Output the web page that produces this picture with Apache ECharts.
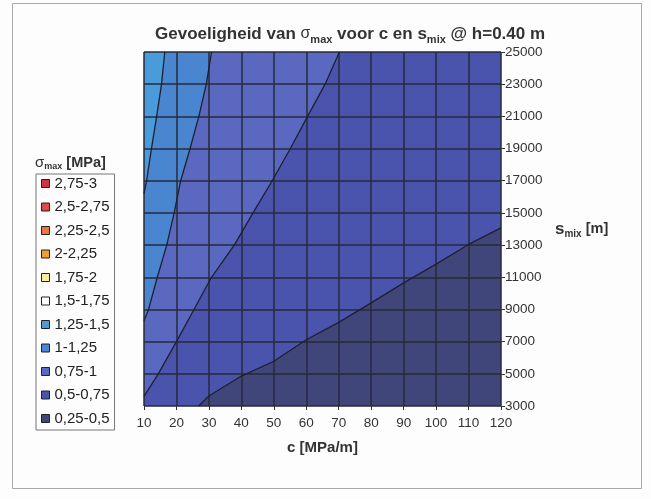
<!DOCTYPE html>
<html>
<head>
<meta charset="utf-8">
<script src="https://cdn.jsdelivr.net/npm/echarts@6/dist/echarts.min.js"></script>
<style>
  html, body { margin: 0; padding: 0; background: #fdfdfd; }
  #chart { width: 651px; height: 499px; }
</style>
</head>
<body>
<div id="chart"></div>
<script>
// Legend classes of sigma_max [MPa], top to bottom
const bandLabels = ['2,75-3', '2,5-2,75', '2,25-2,5', '2-2,25', '1,75-2', '1,5-1,75',
                    '1,25-1,5', '1-1,25', '0,75-1', '0,5-0,75', '0,25-0,5'];

// Axis ranges and tick steps
const cRange = [10, 120];
const cStep = 10;
const sRange = [3000, 25000];
const sStep = 2000;

// Iso-lines of sigma_max as [c (MPa/m), s_mix (m)] points
const iso125 = [[16.4, 25000], [15.4, 23000], [13.9, 21000], [12.3, 19000], [10.8, 17000], [10, 16200]];
const iso100 = [[30.8, 25000], [29.2, 23000], [26.9, 21000], [24.2, 19000], [21.3, 17000],
                [19.3, 15000], [17.0, 13000], [14.1, 11000], [11.4, 9000], [10, 8300]];
const iso075 = [[70.2, 25000], [65.8, 23000], [60.4, 21000], [55.1, 19000], [49.5, 17000],
                [43.6, 15000], [37.8, 13000], [30.8, 11000], [25.4, 9000], [20, 7000],
                [14.4, 5000], [10, 3600]];
const iso050 = [[26.8, 3000], [30, 3620], [40, 4860], [50, 5780], [60, 7120], [70, 8200],
                [80, 9410], [90, 10650], [100, 11820], [110, 13040], [120, 14070]];

// Fill colours per class
const bandColors = {
  '2,75-3': '#cc3344', '2,5-2,75': '#e04a48', '2,25-2,5': '#e8783c', '2-2,25': '#f0a030',
  '1,75-2': '#f4f0a0', '1,5-1,75': '#ffffff', '1,25-1,5': '#4a9bda', '1-1,25': '#4a86cf',
  '0,75-1': '#5a68c0', '0,5-0,75': '#4a54ad', '0,25-0,5': '#404679'
};

const FONT = 'Liberation Sans, Arial, sans-serif';
const [c0, c1] = cRange, [s0, s1] = sRange;

// Regions painted in order: later ones cover earlier ones
const regions = {
  '0,5-0,75': [[c0, s0], [c1, s0], [c1, s1], [c0, s1]],
  '0,75-1': iso075.concat([[c0, s1]]),
  '1-1,25': iso100.concat([[c0, s1]]),
  '1,25-1,5': iso125.concat([[c0, s1]]),
  '0,25-0,5': iso050.concat([[c1, s0]])
};

function polygonSeries(name) {
  const pts = regions[name] || [];
  return {
    type: 'custom', name: name, coordinateSystem: 'cartesian2d', clip: true, z: 2,
    itemStyle: { color: bandColors[name] },
    data: pts,
    renderItem: function (params, api) {
      if (params.dataIndex !== 0) return null;
      return {
        type: 'polygon',
        shape: { points: pts.map(p => api.coord(p)) },
        style: { fill: bandColors[name], stroke: null }
      };
    }
  };
}

const drawOrder = ['0,5-0,75', '0,75-1', '1-1,25', '1,25-1,5', '0,25-0,5'];
const series = [];
drawOrder.forEach(n => series.push(polygonSeries(n)));
bandLabels.filter(n => drawOrder.indexOf(n) < 0).forEach(n => series.push(polygonSeries(n)));

[iso125, iso100, iso075, iso050].forEach(line => {
  series.push({
    type: 'line', data: line, symbol: 'none', z: 6, silent: true,
    lineStyle: { color: '#1e2030', width: 1.3 }
  });
});

const chart = echarts.init(document.getElementById('chart'), null, { renderer: 'canvas' });
chart.setOption({
  animation: false,
  backgroundColor: '#fdfdfd',
  title: [{
    left: 150, top: 18,
    text: '{a|Gevoeligheid van }{g|σ}{sub|max}{a| voor c en s}{sub|mix}{a| @ h=0.40 m}',
    textStyle: {
      rich: {
        a: { fontFamily: FONT, fontSize: 17, fontWeight: 'bold', color: '#333', lineHeight: 22 },
        g: { fontFamily: FONT, fontSize: 16, fontWeight: 'normal', color: '#333', lineHeight: 22 },
        sub: { fontFamily: FONT, fontSize: 11, fontWeight: 'bold', color: '#333', lineHeight: 11, verticalAlign: 'bottom' }
      }
    }
  }, {
    left: 30, top: 149,
    text: '{g|σ}{sub|max}{a| [MPa]}',
    textStyle: {
      rich: {
        a: { fontFamily: FONT, fontSize: 14.5, fontWeight: 'bold', color: '#333', lineHeight: 17 },
        g: { fontFamily: FONT, fontSize: 15, fontWeight: 'normal', color: '#333', lineHeight: 17 },
        sub: { fontFamily: FONT, fontSize: 9, fontWeight: 'bold', color: '#333', lineHeight: 9, verticalAlign: 'bottom' }
      }
    }
  }],
  legend: {
    orient: 'vertical', left: 36, top: 174,
    padding: [2, 5, 4, 5],
    borderColor: '#777', borderWidth: 1,
    itemWidth: 8, itemHeight: 8, itemGap: 8.5,
    selectedMode: false,
    textStyle: { fontFamily: FONT, fontSize: 15, color: '#222', lineHeight: 15 },
    data: bandLabels.map(n => ({
      name: n, icon: 'rect',
      itemStyle: { color: bandColors[n], borderColor: '#222', borderWidth: 1 }
    }))
  },
  grid: { left: 144, right: 150, top: 52, bottom: 93 },
  xAxis: {
    type: 'value', min: c0, max: c1, interval: cStep, z: 4,
    name: 'c [MPa/m]', nameLocation: 'middle', nameGap: 34,
    nameTextStyle: { fontFamily: FONT, fontSize: 15, fontWeight: 'bold', color: '#333' },
    axisLine: { show: false },
    axisTick: { show: true, length: 4, lineStyle: { color: '#333' } },
    axisLabel: { margin: 10, fontFamily: FONT, fontSize: 13.5, color: '#333' },
    splitLine: { show: true, lineStyle: { color: '#262a38', width: 1.5 } }
  },
  yAxis: {
    type: 'value', position: 'right', min: s0, max: s1, interval: sStep, z: 4,
    name: '{s|s}{sub|mix}{a| [m]}', nameLocation: 'middle', nameGap: 54, nameRotate: 0,
    nameTextStyle: {
      rich: {
        s: { fontFamily: FONT, fontSize: 17, fontWeight: 'bold', color: '#333', lineHeight: 20 },
        a: { fontFamily: FONT, fontSize: 14.5, fontWeight: 'bold', color: '#333', lineHeight: 20 },
        sub: { fontFamily: FONT, fontSize: 10, fontWeight: 'bold', color: '#333', lineHeight: 10, verticalAlign: 'bottom' }
      }
    },
    axisLine: { show: false },
    axisTick: { show: true, length: 4, lineStyle: { color: '#333' } },
    axisLabel: { margin: 4, fontFamily: FONT, fontSize: 13.5, color: '#333', formatter: v => String(v) },
    splitLine: { show: true, lineStyle: { color: '#262a38', width: 1.5 } }
  },
  graphic: [{
    type: 'rect', silent: true, z: -1,
    shape: { x: 12.5, y: 3.5, width: 629, height: 485 },
    style: { fill: null, stroke: '#a8a8a8', lineWidth: 1 }
  }],
  series: series
});
</script>
</body>
</html>
